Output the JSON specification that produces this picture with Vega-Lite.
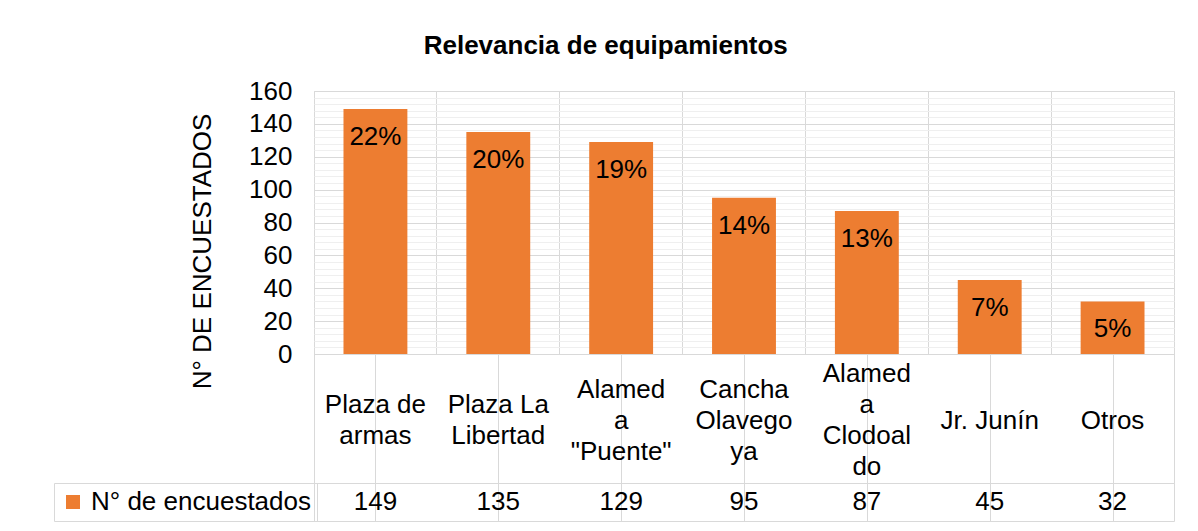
{
  "$schema": "https://vega.github.io/schema/vega-lite/v6.json",
  "background": "white",
  "padding": {"left": 53, "top": 32, "right": 25, "bottom": 8},
  "title": {"text": "Relevancia de equipamientos", "fontSize": 26, "fontWeight": "bold", "font": "Liberation Sans", "color": "black", "anchor": "middle", "frame": "bounds", "offset": 19, "dx": -8},
  "data": {"values": [
    {"equipamiento": "Plaza de armas", "etiqueta": "Plaza de\narmas", "encuestados": 149, "porcentaje": 0.22},
    {"equipamiento": "Plaza La Libertad", "etiqueta": "Plaza La\nLibertad", "encuestados": 135, "porcentaje": 0.20},
    {"equipamiento": "Alameda \"Puente\"", "etiqueta": "Alamed\na\n\"Puente\"", "encuestados": 129, "porcentaje": 0.19},
    {"equipamiento": "Cancha Olavegoya", "etiqueta": "Cancha\nOlavego\nya", "encuestados": 95, "porcentaje": 0.14},
    {"equipamiento": "Alameda Clodoaldo", "etiqueta": "Alamed\na\nClodoal\ndo", "encuestados": 87, "porcentaje": 0.13},
    {"equipamiento": "Jr. Junín", "etiqueta": "Jr. Junín", "encuestados": 45, "porcentaje": 0.07},
    {"equipamiento": "Otros", "etiqueta": "Otros", "encuestados": 32, "porcentaje": 0.05}
  ]},
  "config": {
    "font": "Liberation Sans",
    "view": {"stroke": "#d9d9d9", "strokeWidth": 1},
    "text": {"font": "Liberation Sans", "fontSize": 26, "color": "black"},
    "axis": {"labelFont": "Liberation Sans", "titleFont": "Liberation Sans"}
  },
  "spacing": 0,
  "bounds": "flush",
  "resolve": {"legend": {"color": "independent"}},
  "vconcat": [
    {
      "width": 860,
      "height": 263,
      "encoding": {
        "x": {"field": "equipamiento", "type": "nominal", "sort": null, "scale": {"paddingInner": 0, "paddingOuter": 0},
              "axis": {"title": null, "labels": false, "ticks": false, "domain": false, "grid": true, "gridColor": "#d9d9d9", "bandPosition": 0}},
        "y": {"field": "encuestados", "type": "quantitative", "scale": {"domain": [0, 160], "nice": false},
              "axis": {"title": "N° DE ENCUESTADOS", "values": [0,4,8,12,16,20,24,28,32,36,40,44,48,52,56,60,64,68,72,76,80,84,88,92,96,100,104,108,112,116,120,124,128,132,136,140,144,148,152,156,160],
                       "labelExpr": "datum.value % 20 === 0 ? datum.label : ''",
                       "grid": true,
                       "gridColor": {"condition": {"test": "datum.value % 20 === 0", "value": "#d9d9d9"}, "value": "#efefef"},
                       "domain": false, "ticks": false, "labelFontSize": 26, "labelColor": "black", "labelPadding": 22, "labelOverlap": false,
                       "titleFontSize": 26, "titleFontWeight": "normal", "titleColor": "black", "titleX": -112, "titleY": 160, "titleBaseline": "middle"}}
      },
      "layer": [
        {
          "mark": {"type": "bar", "width": {"band": 0.52}},
          "encoding": {
            "color": {"datum": "N° de encuestados", "type": "nominal", "scale": {"range": ["#ed7d31"]},
                      "legend": {"orient": "none", "legendX": -260, "legendY": 392, "title": null, "symbolType": "square", "symbolSize": 196, "symbolStrokeWidth": 0,
                                 "labelFontSize": 26, "labelFont": "Liberation Sans", "labelColor": "black", "labelLimit": 400, "strokeColor": "#d9d9d9", "padding": 6, "labelOffset": 5}}
          }
        },
        {
          "mark": {"type": "text", "baseline": "middle", "dy": 28},
          "encoding": {"text": {"field": "porcentaje", "type": "quantitative", "format": ".0%"}}
        }
      ]
    },
    {
      "width": 860,
      "height": 129,
      "view": {"stroke": "#d9d9d9"},
      "mark": {"type": "text", "lineBreak": "\n", "lineHeight": 31, "baseline": "middle", "dy": {"expr": "2 - (length(split(datum.etiqueta, '\\n')) - 1) * 15.5"}},
      "encoding": {
        "x": {"field": "equipamiento", "type": "nominal", "sort": null, "scale": {"paddingInner": 0, "paddingOuter": 0},
              "axis": {"title": null, "labels": false, "ticks": false, "domain": false, "grid": true, "gridColor": "#d9d9d9", "bandPosition": 0}},
        "text": {"field": "etiqueta", "type": "nominal"}
      }
    },
    {
      "width": 860,
      "height": 38,
      "mark": {"type": "text", "baseline": "middle"},
      "encoding": {
        "x": {"field": "equipamiento", "type": "nominal", "sort": null, "scale": {"paddingInner": 0, "paddingOuter": 0},
              "axis": {"title": null, "labels": false, "ticks": false, "domain": false, "grid": true, "gridColor": "#d9d9d9", "bandPosition": 0}},
        "text": {"field": "encuestados", "type": "quantitative"}
      }
    }
  ]
}
